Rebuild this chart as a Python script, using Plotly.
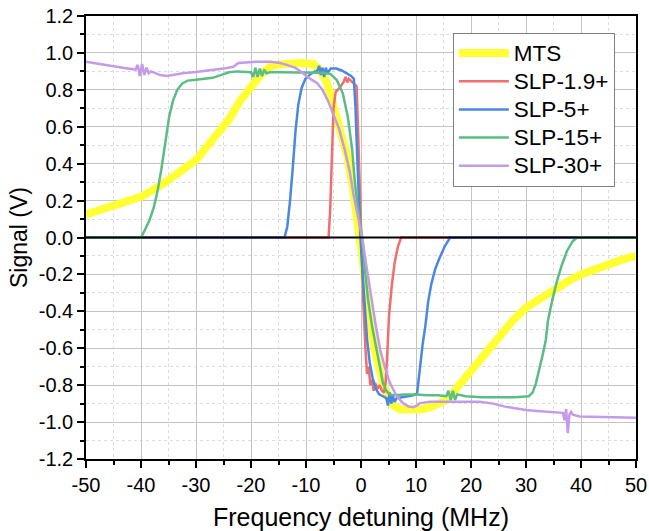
import plotly.graph_objects as go

# ---- data -------------------------------------------------------------
mts_x = [-50, -45, -40, -36, -33, -30, -27, -24, -22, -20, -18, -16, -13.5, -11, -8.7,
         -7.5, -6.2, -5.1, -3.8, -2.5, -1.5, -0.5, 0.3, 1, 2.5, 4, 5.5, 7, 9, 11, 12.5,
         14, 15.6, 17, 18.6, 20, 21.6, 23, 24.7, 26, 27.6, 30, 32.5, 35, 37.5, 40,
         42.5, 45, 47.5, 50]
mts_y = [0.125, 0.17, 0.22, 0.29, 0.35, 0.42, 0.53, 0.64, 0.74, 0.82, 0.89, 0.935,
         0.945, 0.945, 0.94, 0.91, 0.84, 0.71, 0.58, 0.44, 0.27, 0.08, -0.12, -0.34,
         -0.61, -0.79, -0.9, -0.93, -0.935, -0.93, -0.92, -0.905, -0.88, -0.83, -0.77,
         -0.72, -0.66, -0.61, -0.555, -0.51, -0.45, -0.38, -0.33, -0.28, -0.24, -0.2,
         -0.17, -0.14, -0.12, -0.1]

slp19_x = [-50, -5.9, -5.6, -5.3, -5.0, -4.6, -4.2, -3.7, -3.2, -2.8, -2.5, -2.2, -1.9,
           -1.5, -1.1, -0.8, -0.5, -0.2, 0.1, 0.4, 0.8, 1.1, 1.4, 1.7, 2.0, 2.3, 2.6,
           3.0, 3.4, 3.8, 4.2, 4.5, 4.8, 5.1, 5.6, 6.1, 6.7, 7.3, 50]
slp19_y = [0, 0, 0.15, 0.45, 0.7, 0.79, 0.8, 0.82, 0.84, 0.87, 0.84, 0.86, 0.85, 0.84,
           0.83, 0.82, 0.55, 0.25, 0, -0.34, -0.6, -0.74, -0.7, -0.8, -0.77, -0.83,
           -0.79, -0.82, -0.8, -0.83, -0.84, -0.78, -0.62, -0.42, -0.26, -0.14, -0.05,
           0, 0]

slp5_x = [-50, -13.9, -13.4, -12.9, -12.4, -11.9, -11.4, -10.8, -10.1, -9.2, -8.4,
          -8.0, -7.6, -7.3, -7.0, -6.7, -6.4, -6.1, -5.5, -4.5, -3.5, -2.5, -1.8, -1.3,
          -1.0, -0.7, -0.4, -0.1, 0.3, 0.7, 1.1, 1.6, 2.1, 2.7, 3.3, 4.0, 4.6, 4.9, 5.2,
          5.5, 5.8, 6.1, 6.5, 7.5, 8.5, 9.5, 10.2, 10.7, 11.2, 11.7, 12.2, 12.8, 13.5,
          14.3, 15.2, 16.2, 50]
slp5_y = [0, 0, 0.06, 0.2, 0.38, 0.58, 0.72, 0.81, 0.86, 0.885, 0.9, 0.9, 0.93, 0.88,
          0.92, 0.87, 0.92, 0.89, 0.915, 0.915, 0.905, 0.89, 0.875, 0.86, 0.7, 0.45,
          0.22, 0, -0.2, -0.4, -0.55, -0.68, -0.76, -0.82, -0.85, -0.86, -0.87, -0.91,
          -0.84, -0.9, -0.86, -0.89, -0.87, -0.865, -0.86, -0.855, -0.845, -0.7, -0.58,
          -0.48, -0.35, -0.25, -0.17, -0.11, -0.05, 0, 0]

slp15_x = [-50, -40, -39.3, -38.5, -37.7, -37.0, -36.3, -35.6, -34.9, -34.2, -33.4,
           -32.5, -31.5, -30, -28.5, -27, -25.5, -24, -22.5, -21, -20, -19.6, -19.2,
           -18.8, -18.4, -18.0, -17.6, -17.2, -16.5, -15, -12, -9, -7, -5.5, -4.4,
           -3.3, -2.4, -1.6, -1.1, -0.6, -0.2, 0.2, 0.7, 1.3, 2.0, 2.9, 3.5, 4.0, 4.6,
           5.2, 6.0, 8, 10, 12, 14, 15.5, 15.9, 16.3, 16.7, 17.1, 17.5, 19, 22, 25, 28,
           30.5, 31.2, 31.8, 32.4, 33, 33.6, 34.0, 34.7, 35.5, 36.5, 37.5, 38.5, 39.3,
           50]
slp15_y = [0, 0, 0.04, 0.09, 0.16, 0.25, 0.37, 0.52, 0.65, 0.74, 0.8, 0.835, 0.85,
           0.855, 0.86, 0.865, 0.88, 0.895, 0.9, 0.895, 0.895, 0.87, 0.92, 0.87, 0.915,
           0.875, 0.91, 0.89, 0.895, 0.895, 0.895, 0.895, 0.893, 0.885, 0.853, 0.78,
           0.655, 0.475, 0.295, 0.17, 0.08, 0, -0.17, -0.34, -0.48, -0.61, -0.71,
           -0.79, -0.83, -0.85, -0.855, -0.85, -0.85, -0.855, -0.855, -0.86, -0.83,
           -0.88, -0.83, -0.88, -0.85, -0.86, -0.865, -0.865, -0.865, -0.86, -0.84,
           -0.79, -0.72, -0.64, -0.555, -0.45, -0.35, -0.25, -0.15, -0.07, -0.02, 0, 0]

slp30_x = [-50, -47, -45, -43, -41, -40.6, -40.2, -39.8, -39.4, -39.0, -38.6, -38.2,
           -37.5, -36.5, -35.3, -34, -32.4, -30, -27, -25, -23.2, -22.3, -21, -19,
           -16.5, -14.7, -13.5, -12, -11, -10, -9, -8, -7, -6, -5, -4, -3, -2, -1.4,
           -0.7, -0.2, 0.2, 0.8, 1.3, 1.9, 2.7, 3.5, 4.4, 5.3, 6.4, 7.6, 8.6, 9.5, 10.2,
           10.7, 12.5, 15, 18.6, 21.6, 24, 26, 28, 30, 32, 34, 36, 36.7, 37.0, 37.3,
           37.6, 37.9, 38.2, 38.5, 39.8, 42, 44, 46, 48, 50]
slp30_y = [0.952, 0.94, 0.928, 0.918, 0.91, 0.935, 0.875, 0.94, 0.88, 0.92, 0.89,
           0.9, 0.89, 0.88, 0.875, 0.882, 0.89, 0.897, 0.907, 0.915, 0.925, 0.945,
           0.948, 0.952, 0.952, 0.945, 0.935, 0.92, 0.9, 0.875, 0.855, 0.837, 0.8,
           0.74, 0.67, 0.59, 0.48, 0.35, 0.24, 0.14, 0.06, 0, -0.12, -0.22, -0.34,
           -0.48, -0.61, -0.71, -0.79, -0.855, -0.897, -0.915, -0.92, -0.91, -0.897,
           -0.89, -0.89, -0.89, -0.89, -0.9, -0.915, -0.925, -0.935, -0.94, -0.945,
           -0.95, -0.95, -0.99, -0.93, -1.06, -0.96, -0.945, -0.96, -0.97, -0.972,
           -0.975, -0.977, -0.977, -0.977]

x_ticks = [-50, -40, -30, -20, -10, 0, 10, 20, 30, 40, 50]
x_tick_labels = ["-50", "-40", "-30", "-20", "-10", "0", "10", "20", "30", "40", "50"]
y_ticks = [-1.2, -1.0, -0.8, -0.6, -0.4, -0.2, 0.0, 0.2, 0.4, 0.6, 0.8, 1.0, 1.2]
y_tick_labels = ["-1.2", "-1.0", "-0.8", "-0.6", "-0.4", "-0.2", "0.0", "0.2", "0.4",
                 "0.6", "0.8", "1.0", "1.2"]

# ---- figure -----------------------------------------------------------
FONT = "Liberation Sans, Arial, sans-serif"

series = [
    ("MTS", mts_x, mts_y, "#FFFF33", 8),
    ("SLP-1.9+", slp19_x, slp19_y, "#F26D6D", 2.5),
    ("SLP-5+", slp5_x, slp5_y, "#4A87E4", 2.5),
    ("SLP-15+", slp15_x, slp15_y, "#5BBD85", 2.5),
    ("SLP-30+", slp30_x, slp30_y, "#C39BE8", 2.5),
]

fig = go.Figure()
for name, xs, ys, color, width in series:
    # legend rows are spaced by the legend font; the label itself is a bit larger
    label = f'<span style="font-size:22.5px">{name}</span>'
    fig.add_trace(go.Scatter(x=xs, y=ys, mode="lines", name=label,
                             line=dict(color=color, width=width)))

axis_common = dict(
    showline=True, linecolor="black", linewidth=1.5, mirror=True,
    ticks="outside", ticklen=7, tickwidth=1.5, tickcolor="black",
    showgrid=True, gridcolor="#C4C4C4", gridwidth=1, automargin=False,
    tickfont=dict(family=FONT, size=20, color="black"),
)

fig.update_xaxes(
    range=[-50, 50], tickmode="array", tickvals=x_ticks, ticktext=x_tick_labels,
    zeroline=False,
    minor=dict(tickmode="linear", tick0=-50, dtick=5, ticks="outside", ticklen=4,
               tickwidth=1.5, tickcolor="black", showgrid=True,
               gridcolor="#DCDCDC", griddash="dot"),
    title=dict(text="Frequency detuning (MHz)",
               font=dict(family=FONT, size=25, color="black"), standoff=19),
    **axis_common,
)
fig.update_yaxes(
    range=[-1.2, 1.2], tickmode="array", tickvals=y_ticks, ticktext=y_tick_labels,
    zeroline=False,
    minor=dict(tickmode="linear", tick0=-1.2, dtick=0.1, ticks="outside", ticklen=4,
               tickwidth=1.5, tickcolor="black", showgrid=True,
               gridcolor="#DCDCDC", griddash="dot"),
    title=dict(text="Signal (V)",
               font=dict(family=FONT, size=23, color="black"), standoff=5),
    **axis_common,
)

# black baseline at 0 V, drawn over the traces
fig.add_shape(type="line", xref="paper", x0=0, x1=1, yref="y", y0=0, y1=0,
              line=dict(color="black", width=2), layer="above")

fig.update_layout(
    width=649, height=531,
    margin=dict(l=86, r=13, t=16, b=72),
    paper_bgcolor="white", plot_bgcolor="white",
    font=dict(family=FONT, color="black"),
    showlegend=True,
    legend=dict(
        x=0.667, y=0.962, xanchor="left", yanchor="top",
        bgcolor="white", bordercolor="#808080", borderwidth=1,
        font=dict(family=FONT, size=19.4, color="black"),
        itemwidth=50, tracegroupgap=0,
    ),
)

fig.write_html("out.html")
